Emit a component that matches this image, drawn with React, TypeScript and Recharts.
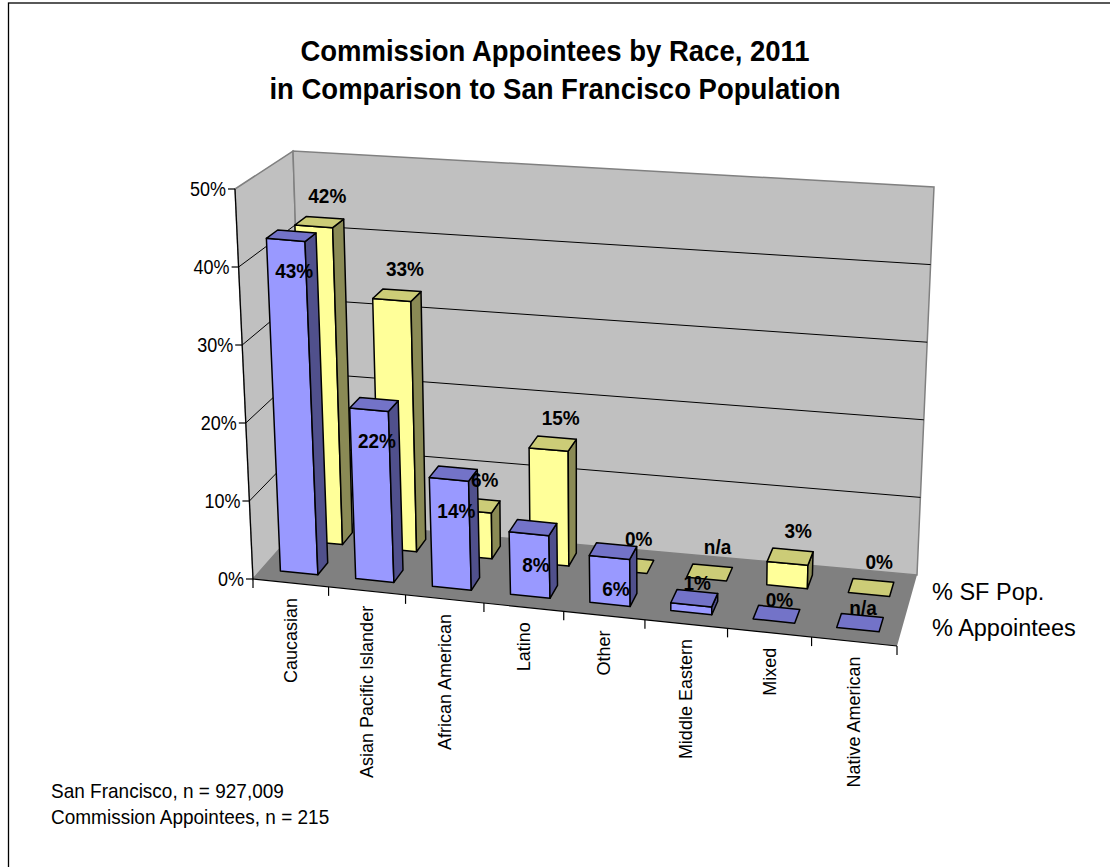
import { BarChart, Bar, XAxis, YAxis } from "recharts";

// ---- data ----
const categories = [
  "Caucasian",
  "Asian Pacific Islander",
  "African American",
  "Latino",
  "Other",
  "Middle Eastern",
  "Mixed",
  "Native American",
];
// null = n/a in the source table
const appointeesPct: (number | null)[] = [43, 22, 14, 8, 6, 1, 0, null];
const sfPopPct: (number | null)[] = [42, 33, 6, 15, 0, null, 3, 0];
const seriesNames = { sf: "% SF Pop.", appt: "% Appointees" };
const valueTicks = [0, 10, 20, 30, 40, 50];
const titleLines = [
  "Commission Appointees by Race, 2011",
  "in Comparison to San Francisco Population",
];
const notes = ["San Francisco, n = 927,009", "Commission Appointees, n = 215"];

const pctLabel = (v: number | null) => (v == null ? "n/a" : `${v}%`);

const chartData = categories.map((name, i) => ({
  name,
  sf: sfPopPct[i] ?? 0,
  sfLabel: pctLabel(sfPopPct[i]),
  appt: appointeesPct[i] ?? 0,
  apptLabel: pctLabel(appointeesPct[i]),
}));

// ---- layout ----
const W = 1110;
const H = 867;
const FONT = '"Liberation Sans", Arial, Helvetica, sans-serif';

// flat plot box that recharts lays out; everything is then projected into the 3D box
const PLOT_LEFT = 260;
const PLOT_TOP = 120;
const PLOT_W = 640;
const PLOT_H = 400;
const PLOT_BOTTOM = PLOT_TOP + PLOT_H;
const Y_AXIS_W = 60;
const X_AXIS_H = 200;
const N = categories.length;
const BAND = PLOT_W / N;
const V_MAX = valueTicks[valueTicks.length - 1];

type Pt = [number, number];
// corners: front-left, front-right, back-left, back-right
const FLOOR: Pt[] = [[253, 579], [897, 646], [305, 520], [917, 575]];
const CEIL: Pt[] = [[235, 189], [900, 248], [293, 151], [934, 187]];
const WARP = 0.07; // perspective stretch along the category axis

function bilerp(q: Pt[], s: number, w: number): Pt {
  const fx = q[0][0] + (q[1][0] - q[0][0]) * s;
  const fy = q[0][1] + (q[1][1] - q[0][1]) * s;
  const bx = q[2][0] + (q[3][0] - q[2][0]) * s;
  const by = q[2][1] + (q[3][1] - q[2][1]) * s;
  return [fx + (bx - fx) * w, fy + (by - fy) * w];
}

// u: category units (0..N), w: depth (0 front .. 1 back), t: height (0..1 of V_MAX)
function project(u: number, w: number, t: number): Pt {
  const s0 = u / N;
  const s = s0 + WARP * s0 * (s0 - 1);
  const f = bilerp(FLOOR, s, w);
  const c = bilerp(CEIL, s, w);
  return [f[0] + (c[0] - f[0]) * t, f[1] + (c[1] - f[1]) * t];
}

const poly = (pts: Pt[]) => pts.map((p) => `${p[0].toFixed(1)},${p[1].toFixed(1)}`).join(" ");

const ROWS: Record<string, any> = {
  appt: { w0: 0.17, w1: 0.37, front: "#9999FF", top: "#7373C8", side: "#50508C" },
  sf: { w0: 0.67, w1: 0.87, front: "#FFFF99", top: "#CCCC77", side: "#8A8A55" },
};

// text slightly stretched vertically, like the source render
function Txt({ x, y, size, bold, anchor, children }: any) {
  return (
    <text
      transform={`translate(${x} ${y}) scale(1 1.1)`}
      textAnchor={anchor ?? "start"}
      dominantBaseline="central"
      fontFamily={FONT}
      fontWeight={bold ? "bold" : "normal"}
      fontSize={size}
      fill="#000"
    >
      {children}
    </text>
  );
}

function barGeom(props: any) {
  const { x, y, width, height, row } = props;
  const r = ROWS[row];
  const u0 = (x - PLOT_LEFT) / BAND;
  const u1 = (x + width - PLOT_LEFT) / BAND;
  const topY = Math.min(y, y + height);
  const t = Math.max(0, (PLOT_BOTTOM - topY) / PLOT_H);
  return { r, u0, u1, t };
}

function Box3D(props: any) {
  const { r, u0, u1, t } = barGeom(props);
  const f0 = project(u0, r.w0, 0);
  const f1 = project(u1, r.w0, 0);
  const b1 = project(u1, r.w1, 0);
  const tf0 = project(u0, r.w0, t);
  const tf1 = project(u1, r.w0, t);
  const tb1 = project(u1, r.w1, t);
  const tb0 = project(u0, r.w1, t);
  const stroke = { stroke: "#000", strokeWidth: 1.5, strokeLinejoin: "round" as const };
  return (
    <g>
      {t > 0 && <polygon points={poly([f0, f1, tf1, tf0])} fill={r.front} {...stroke} />}
      {t > 0 && <polygon points={poly([f1, b1, tb1, tf1])} fill={r.side} {...stroke} />}
      <polygon points={poly([tf0, tf1, tb1, tb0])} fill={r.top} {...stroke} />
    </g>
  );
}

// data label pass, drawn after all boxes
function BoxLabel(props: any) {
  const { payload, row } = props;
  const { r, u0, u1, t } = barGeom(props);
  const uc = (u0 + u1) / 2;
  const topC = project(uc, (r.w0 + r.w1) / 2, t);
  const frontTop = project(uc, r.w0, t);
  let lx = topC[0] + 3;
  let ly = topC[1] - 15;
  if (row === "appt" && payload.appt >= 3) ly = frontTop[1] + 31;
  if (row === "sf") {
    lx = topC[0] + 8;
    ly = topC[1] - 26;
  }
  return (
    <Txt x={lx} y={ly} size={19} bold anchor="middle">
      {payload[row + "Label"]}
    </Txt>
  );
}

function CategoryTick(props: any) {
  const { x, payload } = props;
  const uc = (x - PLOT_LEFT) / BAND;
  const i = Math.floor(uc);
  const [px, py] = project(uc, 0, 0);
  const a = project(i, 0, 0);
  const b = project(i + 1, 0, 0);
  return (
    <g>
      <line x1={a[0]} y1={a[1]} x2={a[0]} y2={a[1] + 9} stroke="#000" strokeWidth={1.2} />
      {i === N - 1 && (
        <line x1={b[0]} y1={b[1]} x2={b[0]} y2={b[1] + 9} stroke="#000" strokeWidth={1.2} />
      )}
      <text
        x={px}
        y={py + 15}
        transform={`rotate(-90 ${px} ${py + 15})`}
        textAnchor="end"
        dy="0.35em"
        fontFamily={FONT}
        fontSize={18}
        fill="#000"
      >
        {payload.value}
      </text>
    </g>
  );
}

function ValueTick(props: any) {
  const { y, payload } = props;
  const t = (PLOT_BOTTOM - y) / PLOT_H;
  const [ax, ay] = project(0, 0, t);
  return (
    <g>
      <line x1={ax - 7} y1={ay} x2={ax} y2={ay} stroke="#000" strokeWidth={1.2} />
      <Txt x={ax - 9} y={ay} size={18} anchor="end">
        {`${payload.value}%`}
      </Txt>
    </g>
  );
}

// walls, floor, gridlines, titles
function Backdrop() {
  const p = project;
  const leftWall = [p(0, 0, 0), p(0, 1, 0), p(0, 1, 1), p(0, 0, 1)];
  const backWall = [p(0, 1, 0), p(N, 1, 0), p(N, 1, 1), p(0, 1, 1)];
  const floor = [p(0, 0, 0), p(N, 0, 0), p(N, 1, 0), p(0, 1, 0)];
  const grid = valueTicks.slice(1, -1).map((v) => v / V_MAX);
  const rowLabelX = p(N, 1, 0)[0] + 15;

  return (
    <svg width={W} height={H} style={{ position: "absolute", left: 0, top: 0 }}>
      <rect x={8.5} y={3} width={1300} height={1000} fill="#fff" stroke="#000" strokeWidth={1.3} />
      {titleLines.map((line, i) => (
        <Txt key={line} x={555} y={51 + i * 38} size={27.5} bold anchor="middle">
          {line}
        </Txt>
      ))}
      <polygon points={poly(leftWall)} fill="#C0C0C0" stroke="#808080" strokeWidth={1.5} />
      <polygon points={poly(backWall)} fill="#C0C0C0" stroke="#808080" strokeWidth={1.5} />
      <polygon points={poly(floor)} fill="#808080" />
      {grid.map((t) => (
        <polyline
          key={t}
          points={poly([p(0, 0, t), p(0, 1, t), p(N, 1, t)])}
          fill="none"
          stroke="#000"
          strokeWidth={1}
        />
      ))}
      <line x1={p(0, 0, 0)[0]} y1={p(0, 0, 0)[1]} x2={p(N, 0, 0)[0]} y2={p(N, 0, 0)[1]} stroke="#000" strokeWidth={1.2} />
      <line x1={p(0, 0, 0)[0]} y1={p(0, 0, 0)[1]} x2={p(0, 0, 1)[0]} y2={p(0, 0, 1)[1]} stroke="#000" strokeWidth={1.2} />
      {(["sf", "appt"] as const).map((k) => {
        const r = ROWS[k];
        const yy = p(N, (r.w0 + r.w1) / 2, 0)[1] + 1;
        return (
          <text key={k} x={rowLabelX} y={yy} dominantBaseline="central" fontFamily={FONT} fontSize={23.5} fill="#000">
            {seriesNames[k]}
          </text>
        );
      })}
      {notes.map((n, i) => (
        <Txt key={n} x={51} y={791 + i * 26} size={19}>
          {n}
        </Txt>
      ))}
    </svg>
  );
}

export default function App() {
  return (
    <div style={{ position: "absolute", left: 0, top: 0, width: W, height: H, background: "#fff" }}>
      <Backdrop />
      <div style={{ position: "absolute", left: 0, top: 0 }}>
        <BarChart
          width={W}
          height={H}
          data={chartData}
          barCategoryGap="25%"
          margin={{
            top: PLOT_TOP,
            left: PLOT_LEFT - Y_AXIS_W,
            right: W - PLOT_LEFT - PLOT_W,
            bottom: H - PLOT_BOTTOM - X_AXIS_H,
          }}
        >
          <XAxis xAxisId="back" dataKey="name" hide />
          <XAxis xAxisId="lblBack" dataKey="name" hide />
          <XAxis xAxisId="lblFront" dataKey="name" hide />
          <XAxis
            xAxisId="front"
            dataKey="name"
            height={X_AXIS_H}
            axisLine={false}
            tickLine={false}
            interval={0}
            tick={(p: any) => <CategoryTick {...p} />}
          />
          <YAxis
            domain={[0, V_MAX]}
            ticks={valueTicks}
            width={Y_AXIS_W}
            axisLine={false}
            tickLine={false}
            interval={0}
            tick={(p: any) => <ValueTick {...p} />}
          />
          {/* back row first so the front row covers it, labels last */}
          <Bar
            dataKey="sf"
            xAxisId="back"
            isAnimationActive={false}
            shape={(p: any) => <Box3D {...p} row="sf" />}
          />
          <Bar
            dataKey="appt"
            xAxisId="front"
            isAnimationActive={false}
            shape={(p: any) => <Box3D {...p} row="appt" />}
          />
          <Bar
            dataKey="sf"
            xAxisId="lblBack"
            isAnimationActive={false}
            shape={(p: any) => <BoxLabel {...p} row="sf" />}
          />
          <Bar
            dataKey="appt"
            xAxisId="lblFront"
            isAnimationActive={false}
            shape={(p: any) => <BoxLabel {...p} row="appt" />}
          />
        </BarChart>
      </div>
    </div>
  );
}
